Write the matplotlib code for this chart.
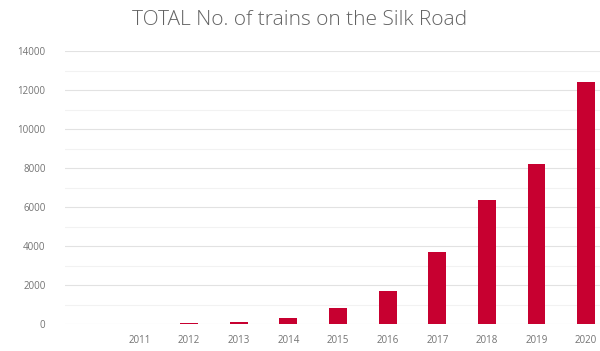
import matplotlib
matplotlib.use("Agg")
import matplotlib.pyplot as plt
from matplotlib.ticker import MultipleLocator

years = ["2011", "2012", "2013", "2014", "2015", "2016", "2017", "2018", "2019", "2020"]
trains = [17, 42, 80, 308, 815, 1702, 3673, 6363, 8225, 12406]
yticks = [0, 2000, 4000, 6000, 8000, 10000, 12000, 14000]

plt.rcParams['font.family'] = ['Open Sans', 'DejaVu Sans']

fig = plt.figure(figsize=(6.0, 3.51), dpi=100)
W, H = 600, 351
left, right, bottom, top = 65, 611, 324, 51
ax = fig.add_axes([left / W, (H - bottom) / H, (right - left) / W, (bottom - top) / H])

x = list(range(len(years)))
ax.bar(x, trains, width=0.36, color='#C70030', zorder=3)

ax.set_xlim(-1.5, len(years) - 0.5)
ax.set_ylim(0, 14000)
ax.set_yticks(yticks)
ax.set_yticklabels([str(v) for v in yticks])
ax.yaxis.set_minor_locator(MultipleLocator(1000))
ax.set_xticks(x)
ax.set_xticklabels(years)

ax.grid(axis='y', which='major', color='#E2E2E2', linewidth=0.8, zorder=0)
ax.grid(axis='y', which='minor', color='#F2F2F2', linewidth=0.8, zorder=0)
for s in ax.spines.values():
    s.set_visible(False)
ax.tick_params(axis='both', which='both', length=0, labelsize=7, labelcolor='#737373')
ax.tick_params(axis='y', pad=14)
ax.tick_params(axis='x', pad=8)

fig.text(0.5, 0.942, "TOTAL No. of trains on the Silk Road", ha='center', va='center',
         fontsize=15, color='#636363', fontweight='light')

fig.savefig("out.png", dpi=100)
